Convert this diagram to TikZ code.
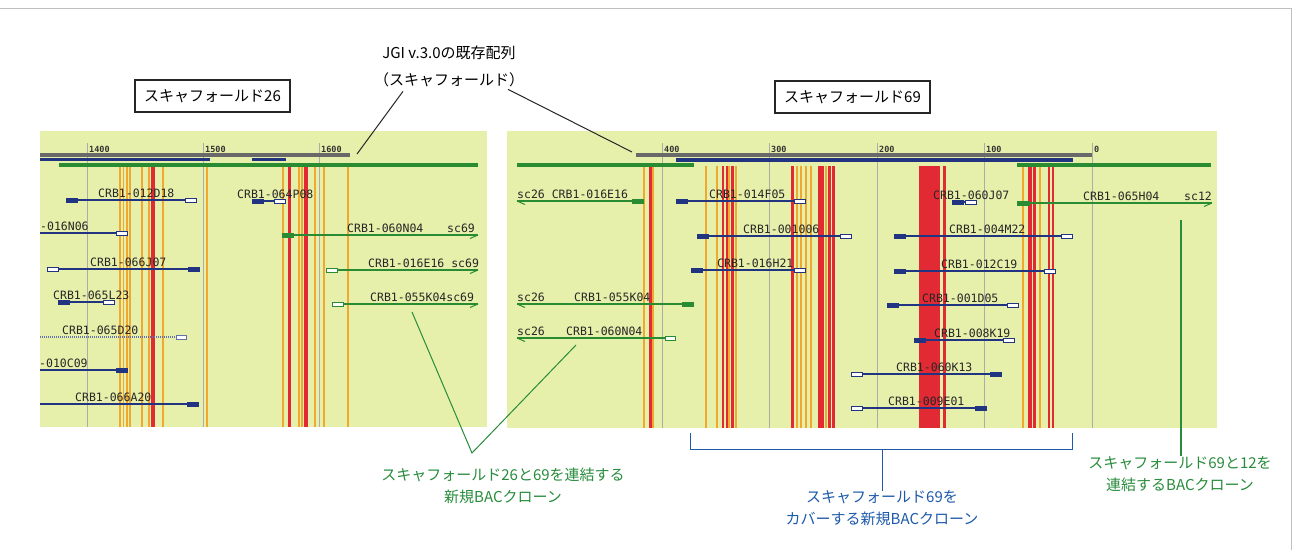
\documentclass[tikz,border=0pt]{standalone}
\usepackage{fontspec}
\usetikzlibrary{calc}
\newfontfamily\jpf{Noto Sans CJK JP}
\newfontfamily\monof{DejaVu Sans Mono}
\definecolor{panelbg}{RGB}{231,240,170}
\definecolor{navy}{RGB}{32,52,130}
\definecolor{gbar}{RGB}{42,140,50}
\definecolor{redl}{RGB}{226,42,52}
\definecolor{orl}{RGB}{240,168,48}
\definecolor{grayl}{RGB}{172,172,172}
\definecolor{scaf}{RGB}{105,105,105}
\definecolor{annG}{RGB}{40,140,60}
\definecolor{annB}{RGB}{30,90,170}
\tikzset{
  lab/.style={font=\monof\fontsize{11.5}{12}\selectfont, inner sep=0pt, anchor=base west, text=black!85},
  tick/.style={font=\monof\bfseries\fontsize{8.5}{9}\selectfont, inner sep=0pt, anchor=base west, text=black!80},
  jtext/.style={font=\jpf\fontsize{15}{22}\selectfont, inner sep=0pt, align=center},
  boxlab/.style={draw=black!85, line width=1.6pt, minimum width=155pt, minimum height=32pt, inner sep=0pt, font=\jpf\fontsize{15}{18}\selectfont},
  gline/.style={gbar, line width=2pt},
  bline/.style={navy, line width=1.6pt},
}
\begin{document}
\begin{tikzpicture}[x=1pt,y=-1pt]
\useasboundingbox (0,0) rectangle (1303,549);
\fill[white] (0,0) rectangle (1303,549);
\draw[black!25, line width=0.8pt] (-1,8) -- (1291,8) -- (1291,550);
% panels
\fill[panelbg] (40,131) rectangle (487,427);
\fill[panelbg] (507,131) rectangle (1217,428);
% gray tick lines
\foreach \gx in {87,203,319} \draw[grayl, line width=1pt] (\gx,143) -- (\gx,427);
\foreach \gx in {662,769,877,984,1092} \draw[grayl, line width=1pt] (\gx,143) -- (\gx,428);
% orange lines
\foreach \ox in {120,123.5,127,130,142,149,163,207,283,299,302,315,324,348}
  \draw[orl, line width=1.5pt] (\ox,166) -- (\ox,427);
\foreach \ox in {644,653,706,717,729,736,797,801,806,811,826,1023,1040}
  \draw[orl, line width=1.6pt] (\ox,166) -- (\ox,428);
% red lines
\foreach \rx/\rw in {153/4,289/3,306/4}
  \draw[redl, line width=\rw pt] (\rx,166) -- (\rx,427);
\foreach \rx/\rw in {650/3,723/2.5,727/2.5,732/3,792/3,821/6,829/3,833/3,929.5/21,944/3,1030/3.5,1034.5/2.5,1049/2.5,1053/2.5}
  \draw[redl, line width=\rw pt] (\rx,166) -- (\rx,428);
% tick labels
\node[tick] (t1400) at (89,152) {1400};
\node[tick] (t1500) at (205,152) {1500};
\node[tick] (t1600) at (321,152) {1600};
\node[tick] (t400) at (664,152) {400};
\node[tick] (t300) at (771,152) {300};
\node[tick] (t200) at (879,152) {200};
\node[tick] (t100) at (986,152) {100};
\node[tick] (t0) at (1094,152) {0};
% scaffold bars
\draw[scaf, line width=4pt] (40,155) -- (350,155);
\draw[navy, line width=3.5pt] (40,159.5) -- (210,159.5);
\draw[navy, line width=3.5pt] (252,159.5) -- (286,159.5);
\draw[gbar, line width=4pt] (59,164.5) -- (478,164.5);
\draw[scaf, line width=4pt] (636,155) -- (1092,155);
\draw[navy, line width=3.5pt] (676,160) -- (1073,160);
\draw[gbar, line width=4pt] (517,164.5) -- (694,164.5);
\draw[gbar, line width=4pt] (1017,164.5) -- (1211,164.5);
% blue clones
\foreach \y/\xa/\xb/\ltp/\rtp/\xt/\lbl in {
200/66/197/1/2/98/CRB1-012D18,
201/252/286/1/2/237/CRB1-064P08,
233/40/128/0/2/40/-016N06,
269/47/200/2/1/90/CRB1-066J07,
302/58/115/1/2/53/CRB1-065L23,
370/40/128/0/1/39/-010C09,
404/40/199/0/1/75/CRB1-066A20,
201/676/806/1/2/709/CRB1-014F05,
236/697/852/1/2/743/CRB1-001006,
270/691/806/1/2/717/CRB1-016H21,
202/952/977/1/2/933/CRB1-060J07,
236/894/1073/1/2/949/CRB1-004M22,
271/894/1056/1/2/941/CRB1-012C19,
305/887/1019/1/2/922/CRB1-001D05,
340/914/1015/1/2/934/CRB1-008K19,
374/851/1002/2/1/896/CRB1-060K13,
408/851/987/2/1/888/CRB1-009E01}
{
  \draw[bline] (\xa,\y) -- (\xb,\y);
  \ifcase\ltp\or \fill[navy] (\xa,\y-2.5) rectangle (\xa+12,\y+2.5);\or \draw[navy,fill=white,line width=1pt] (\xa+0.5,\y-2) rectangle (\xa+11.5,\y+2);\fi
  \ifcase\rtp\or \fill[navy] (\xb-12,\y-2.5) rectangle (\xb,\y+2.5);\or \draw[navy,fill=white,line width=1pt] (\xb-11.5,\y-2) rectangle (\xb-0.5,\y+2);\fi
  \node[lab] (L\xt-\y) at (\xt,\y-2.5) {\lbl};
}
% dotted clone
\draw[navy!70, line width=2pt, dash pattern=on 1pt off 1pt] (40,337) -- (176,337);
\draw[navy!70,fill=white,line width=1pt] (176.5,335) rectangle (186.5,339);
\node[lab] (L62-337) at (62,334.5) {CRB1-065D20};
% green clones (left panel, towards sc69)
\draw[gline] (282,235) -- (478,235);
\draw[gbar, line width=1pt] (478,235) -- (470,238.5);
\fill[gbar] (282,232.5) rectangle (294,237.5);
\node[lab] (g1) at (347,232.5) {CRB1-060N04};
\node[lab] (g1s) at (447,232.5) {sc69};
\draw[gline] (326,270) -- (478,270);
\draw[gbar, line width=1pt] (478,270) -- (470,273.5);
\draw[gbar,fill=white,line width=1pt] (326.5,268) rectangle (337.5,272);
\node[lab] (g2) at (368,267.5) {CRB1-016E16 sc69};
\draw[gline] (332,304) -- (478,304);
\draw[gbar, line width=1pt] (478,304) -- (470,307.5);
\draw[gbar,fill=white,line width=1pt] (332.5,302) rectangle (343.5,306);
\node[lab] (g3) at (370,301.5) {CRB1-055K04sc69};
% green clones (right panel)
\draw[gline] (517,201) -- (644,201);
\draw[gbar, line width=1pt] (517,201) -- (525,204.5);
\fill[gbar] (632,198.5) rectangle (644,203.5);
\node[lab] (g4) at (517,198.5) {sc26 CRB1-016E16};
\draw[gline] (517,304) -- (694,304);
\draw[gbar, line width=1pt] (517,304) -- (525,307.5);
\fill[gbar] (682,301.5) rectangle (694,306.5);
\node[lab] (g5s) at (517,301.5) {sc26};
\node[lab] (g5) at (574,301.5) {CRB1-055K04};
\draw[gline] (517,338) -- (676,338);
\draw[gbar, line width=1pt] (517,338) -- (525,341.5);
\draw[gbar,fill=white,line width=1pt] (665.5,336) rectangle (675.5,340);
\node[lab] (g6s) at (517,335.5) {sc26};
\node[lab] (g6) at (566,335.5) {CRB1-060N04};
\draw[gline] (1017,203) -- (1212,203);
\draw[gbar, line width=1pt] (1212,203) -- (1204,206.5);
\fill[gbar] (1017,200.5) rectangle (1030,205.5);
\node[lab] (g7) at (1083,200.5) {CRB1-065H04};
\node[lab] (g7s) at (1184,200.5) {sc12};
% top labels
\node[boxlab] (s26) at (212.5,96) {スキャフォールド26};
\node[boxlab] (s69) at (852.5,97) {スキャフォールド69};
\node[jtext] (jgi) at (449,53) {JGI v.3.0の既存配列};
\node[jtext] (jgi2) at (449,80) {（スキャフォールド）};
\coordinate (scL) at (357,154);
\coordinate (scR) at (632,152);
\draw[black!85, line width=1pt] ($(jgi2.south)+(-46,4)$) -- (scL);
\draw[black!85, line width=1pt] ($(jgi2.south)+(59,2)$) -- (scR);
% bottom annotations
\node[jtext, text=annG] (ann1) at (503,486) {スキャフォールド26と69を連結する\\新規BACクローン};
\coordinate (v1) at (412,312);
\coordinate (v2) at (576,345);
\coordinate (vA) at (472,453);
\draw[annG, line width=1pt] (v1) -- (vA) -- (v2);
\node[jtext, text=annB] (ann2) at (882,508.5) {スキャフォールド69を\\カバーする新規BACクローン};
\draw[annB, line width=1pt] (690,433) -- (690,449) -- (1072,449) -- (1072,433);
\draw[annB, line width=1pt] (882,449) -- (ann2.north);
\node[jtext, text=annG] (ann3) at (1180,474) {スキャフォールド69と12を\\連結するBACクローン};
\coordinate (gv) at (1181,220);
\draw[annG, line width=1.2pt] (gv) -- (ann3.north -| gv);
\end{tikzpicture}
\end{document}
